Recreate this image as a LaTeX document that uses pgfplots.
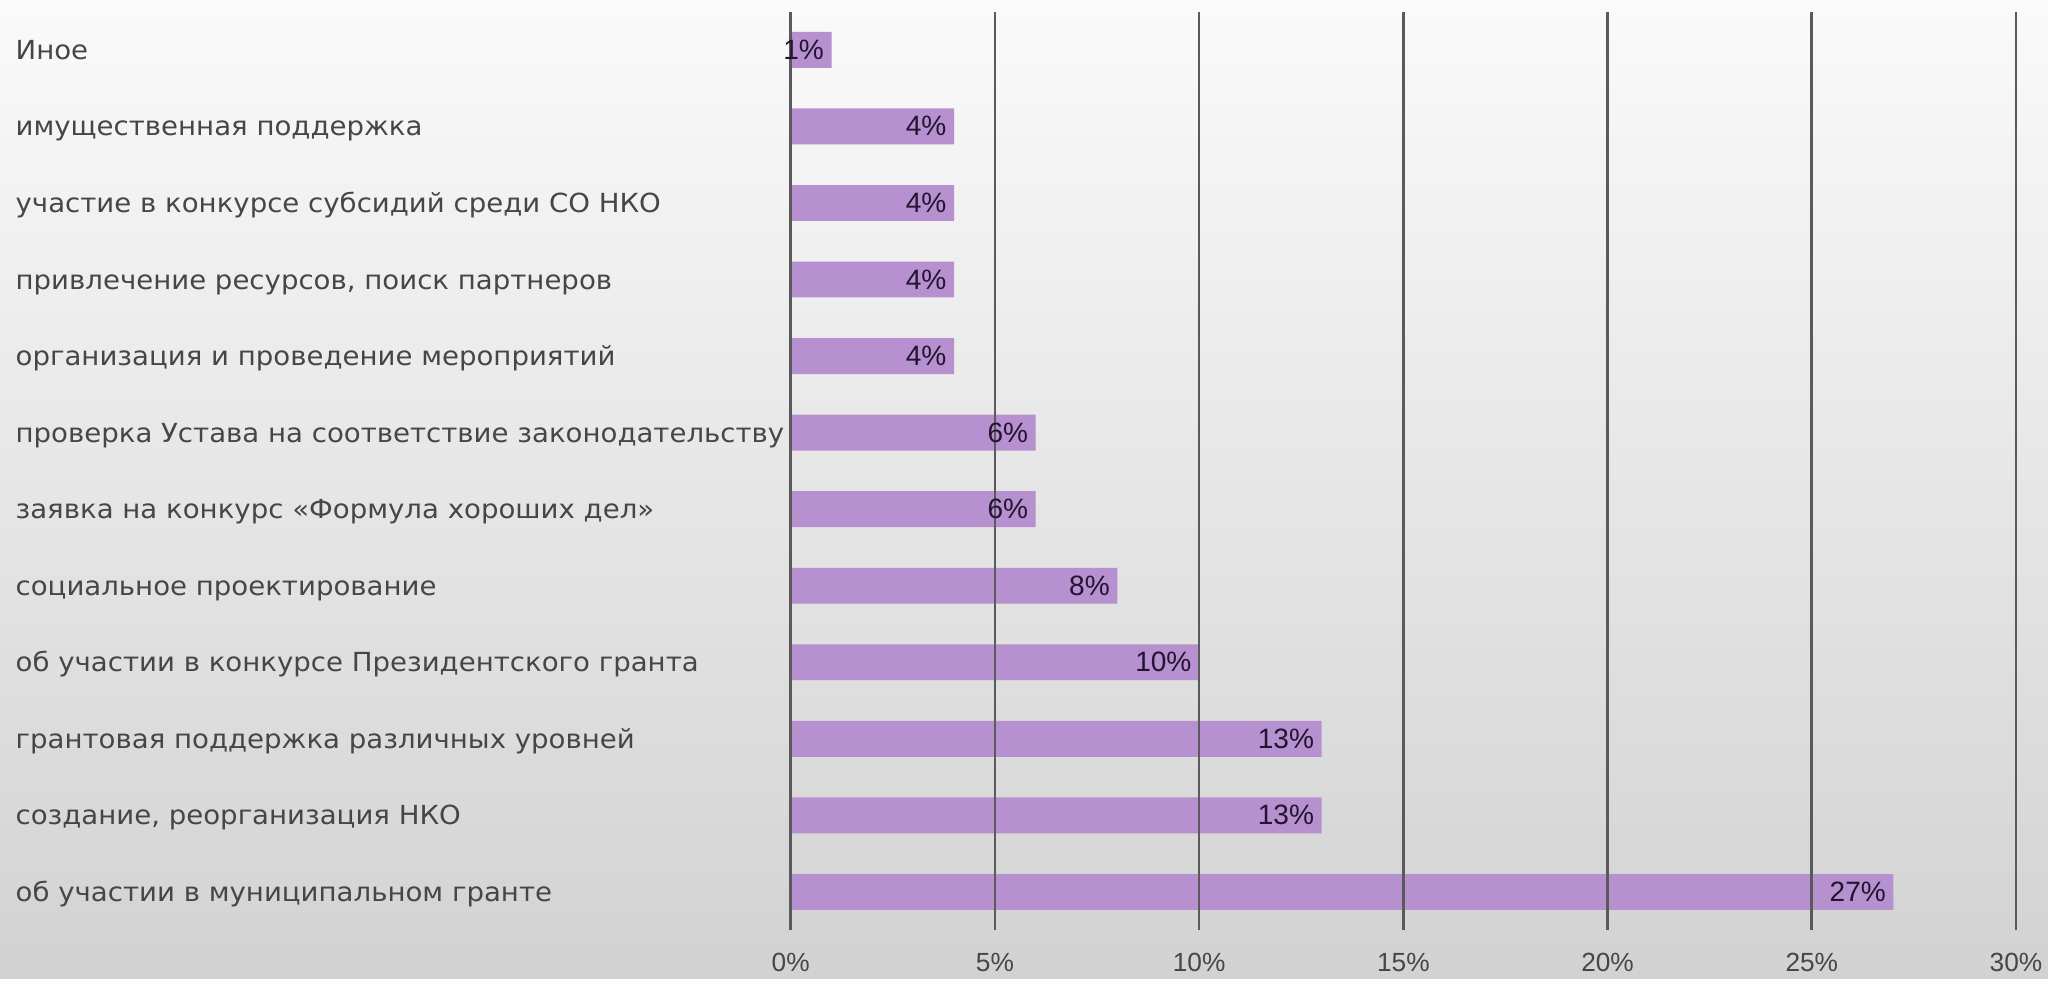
\documentclass[border=0pt]{standalone}
\usepackage{fontspec}
\setmainfont[FakeStretch=1.05]{DejaVu Sans}
\newfontfamily\numfont{Liberation Sans}
\usepackage{pgfplots}
\pgfplotsset{compat=1.18}

\definecolor{barcol}{RGB}{183,144,207}
\definecolor{gridcol}{RGB}{90,90,90}
\definecolor{labcol}{RGB}{70,70,70}
\definecolor{valcol}{RGB}{35,20,50}
\definecolor{bgtop}{RGB}{250,250,250}
\definecolor{bgbot}{RGB}{210,210,210}

\begin{document}
\begin{tikzpicture}
% slide background, sets the page size
\shade[top color=bgtop, bottom color=bgbot] (0,0) rectangle (20.54cm,9.81cm);
\begin{axis}[
    at={(7.93cm,0.48cm)}, anchor=south west,
    scale only axis,
    width=12.29cm, height=9.214cm,
    xbar, bar width=0.36cm,
    xmin=0, xmax=30, ymin=-0.5, ymax=11.5,
    xtick={0,5,...,30},
    xticklabel={\pgfmathprintnumber{\tick}\%},
    ytick={0,...,11},
    yticklabels={об участии в муниципальном гранте,
                 {создание, реорганизация НКО},
                 грантовая поддержка различных уровней,
                 об участии в конкурсе Президентского гранта,
                 социальное проектирование,
                 заявка на конкурс «Формула хороших дел»,
                 проверка Устава на соответствие законодательству,
                 организация и проведение мероприятий,
                 {привлечение ресурсов, поиск партнеров},
                 участие в конкурсе субсидий среди СО НКО,
                 имущественная поддержка,
                 Иное},
    axis line style={draw=none},
    axis on top,
    xmajorgrids,
    major grid style={gridcol, line width=0.75pt},
    tick style={draw=none},
    /pgf/number format/assume math mode=true,
    xticklabel style={font=\numfont\fontsize{7.5}{9}\selectfont, text=labcol, anchor=center, yshift=-0.32cm},
    yticklabel style={font=\fontsize{7.5}{9}\selectfont, text=labcol, anchor=mid west, inner sep=0pt, xshift=-7.63cm},
    nodes near coords={\pgfmathprintnumber{\pgfplotspointmeta}\%},
    nodes near coords style={font=\numfont\fontsize{8}{9}\selectfont, text=valcol, anchor=mid east, inner sep=1pt, xshift=-1pt},
]
\addplot[fill=barcol, draw=none] coordinates {
    (27,0) (13,1) (13,2) (10,3) (8,4) (6,5)
    (6,6) (4,7) (4,8) (4,9) (4,10) (1,11)
};
\end{axis}
\end{tikzpicture}
\end{document}
